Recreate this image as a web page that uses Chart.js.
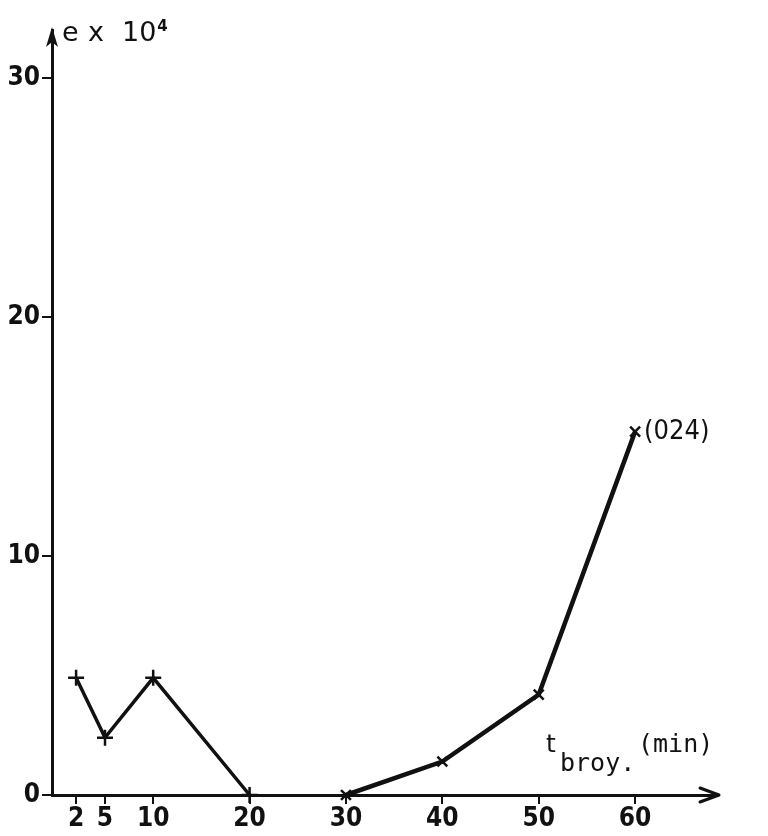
<!DOCTYPE html>
<html>
<head>
<meta charset="utf-8">
<script src="https://cdn.jsdelivr.net/npm/chart.js@4.4.1/dist/chart.umd.min.js"></script>
<style>
  html, body { margin: 0; padding: 0; background: #fff; }
  #wrap { width: 768px; height: 836px; position: relative; }
</style>
</head>
<body>
<div id="wrap"><canvas id="c" width="768" height="836"></canvas></div>
<script>
// Data
const xTicks = [2, 5, 10, 20, 30, 40, 50, 60];
const yTicks = [0, 10, 20, 30];
const timeA = [2, 5, 10, 20];
const valuesA = [4.9, 2.4, 4.9, 0];
const timeB = [30, 40, 50, 60];
const valuesB = [0, 1.4, 4.2, 15.2];
const yAxisLabelParts = ["e", "x", "10"];
const yAxisExp = "4";
const xLabelMain = "t";
const xLabelSub = "broy.";
const xLabelUnit = "(min)";
const curveLabel = "(024)";

const INK = '#111';
const tickFont = { family: '"DejaVu Sans Condensed", "DejaVu Sans", sans-serif', size: 26, weight: '600' };

const annot = {
  id: 'annot',
  afterDraw(chart) {
    const { ctx, chartArea: a, scales } = chart;
    ctx.save();
    ctx.fillStyle = INK;
    ctx.strokeStyle = INK;
    // y axis arrow
    ctx.beginPath();
    ctx.moveTo(a.left, a.top - 3);
    ctx.lineTo(a.left - 6, a.top + 17);
    ctx.lineTo(a.left, a.top + 12);
    ctx.lineTo(a.left + 6, a.top + 17);
    ctx.closePath();
    ctx.fill();
    // x axis arrow
    ctx.lineWidth = 3;
    ctx.lineCap = 'round';
    ctx.lineJoin = 'round';
    ctx.beginPath();
    ctx.moveTo(a.right - 18, a.bottom - 7);
    ctx.lineTo(a.right + 1, a.bottom);
    ctx.lineTo(a.right - 18, a.bottom + 7);
    ctx.stroke();
    // y label "e x 10^4"
    ctx.textBaseline = 'alphabetic';
    ctx.textAlign = 'left';
    ctx.font = '27px "DejaVu Sans", sans-serif';
    const px = [a.left + 10, a.left + 36, a.left + 70];
    yAxisLabelParts.forEach((s, i) => ctx.fillText(s, px[i], a.top + 11));
    const w = ctx.measureText(yAxisLabelParts[2]).width;
    ctx.font = 'bold 15px "DejaVu Sans", sans-serif';
    ctx.fillText(yAxisExp, px[2] + w + 1, a.top + 1);
    // x label
    const xs = scales.x, ys = scales.y;
    ctx.font = '25px "DejaVu Sans", sans-serif';
    ctx.fillText(xLabelMain, 546, 752);
    ctx.font = '25px "DejaVu Sans Mono", monospace';
    ctx.fillText(xLabelSub, 560, 771);
    ctx.fillText(xLabelUnit, 638, 752);
    // curve label
    const lx = xs.getPixelForValue(timeB[timeB.length - 1]);
    const ly = ys.getPixelForValue(valuesB[valuesB.length - 1]);
    ctx.font = '27px "DejaVu Sans Condensed", sans-serif';
    ctx.textBaseline = 'middle';
    ctx.fillText(curveLabel, lx + 9, ly);
    ctx.restore();
  }
};

new Chart(document.getElementById('c'), {
  type: 'scatter',
  data: {
    datasets: [
      {
        data: timeA.map((t, i) => ({ x: t, y: valuesA[i] })),
        showLine: true,
        borderColor: INK,
        backgroundColor: INK,
        borderWidth: 3.5,
        pointStyle: 'cross',
        pointRadius: 8,
        pointBorderWidth: 2.5,
        pointBorderColor: INK,
        clip: false
      },
      {
        data: timeB.map((t, i) => ({ x: t, y: valuesB[i] })),
        showLine: true,
        borderColor: INK,
        backgroundColor: INK,
        borderWidth: 4.5,
        pointStyle: 'crossRot',
        pointRadius: 7,
        pointBorderWidth: 2.5,
        pointBorderColor: INK,
        clip: false
      }
    ]
  },
  options: {
    responsive: false,
    animation: false,
    layout: { padding: { top: 30, right: 50, left: 0, bottom: 0 } },
    plugins: { legend: { display: false }, tooltip: { enabled: false } },
    scales: {
      x: {
        type: 'linear',
        min: -0.5,
        max: 68.6,
        afterBuildTicks: (s) => { s.ticks = xTicks.map(v => ({ value: v })); },
        afterFit: (s) => { s.height = 41; },
        border: { color: INK, width: 3 },
        grid: { drawOnChartArea: false, drawTicks: true, tickLength: 9, color: INK, lineWidth: 2 },
        ticks: { color: INK, font: tickFont, padding: 0, autoSkip: false, maxRotation: 0 }
      },
      y: {
        min: 0,
        max: 32,
        afterBuildTicks: (s) => { s.ticks = yTicks.map(v => ({ value: v })); },
        afterFit: (s) => { s.width = 52; },
        border: { color: INK, width: 3 },
        grid: { drawOnChartArea: false, drawTicks: true, tickLength: 10, color: INK, lineWidth: 2 },
        ticks: { color: INK, font: tickFont, padding: 2 }
      }
    }
  },
  plugins: [annot]
});
</script>
</body>
</html>
